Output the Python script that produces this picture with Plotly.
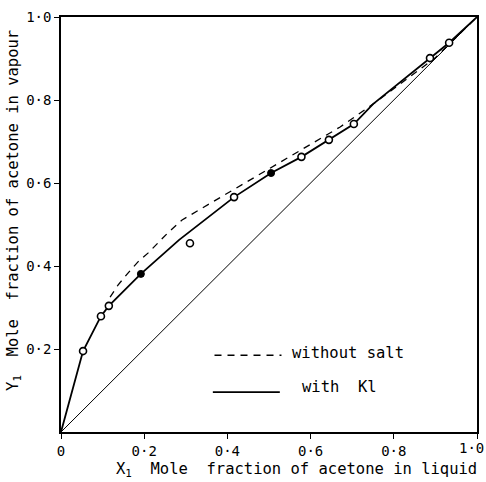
import plotly.graph_objects as go

# Solid curve: with KI
ki_x = [0.0, 0.053, 0.096, 0.115, 0.192, 0.284, 0.416, 0.505, 0.578, 0.644, 0.704, 0.75, 0.887, 0.933, 1.0]
ki_y = [0.0, 0.195, 0.279, 0.304, 0.381, 0.463, 0.566, 0.624, 0.663, 0.704, 0.742, 0.79, 0.901, 0.938, 1.0]

# Dashed curve: without salt
ns_x = [0.118, 0.137, 0.161, 0.185, 0.209, 0.233, 0.257, 0.291, 0.478, 0.671, 0.75, 0.9, 1.0]
ns_y = [0.325, 0.354, 0.383, 0.41, 0.431, 0.455, 0.48, 0.511, 0.622, 0.735, 0.79, 0.902, 1.0]

# Experimental points
open_x = [0.053, 0.096, 0.115, 0.31, 0.416, 0.578, 0.644, 0.704, 0.887, 0.933]
open_y = [0.195, 0.279, 0.304, 0.455, 0.566, 0.663, 0.704, 0.742, 0.901, 0.938]
filled_x = [0.192, 0.505]
filled_y = [0.381, 0.624]

# Diagonal
diag = [0.0, 1.0]

tick_vals = [0, 0.2, 0.4, 0.6, 0.8, 1.0]
x_tick_text = ["0", "0·2", "0·4", "0·6", "0·8", "1·0"]
y_tick_vals = [0.2, 0.4, 0.6, 0.8, 1.0]
y_tick_text = ["0·2", "0·4", "0·6", "0·8", "1·0"]

FONT = "DejaVu Sans Mono"

fig = go.Figure()
fig.add_trace(go.Scatter(x=diag, y=diag, mode="lines", line=dict(color="black", width=1), showlegend=False))
fig.add_trace(go.Scatter(x=ns_x, y=ns_y, mode="lines", line=dict(color="black", width=1.3, dash="7px,6px"), showlegend=False))
fig.add_trace(go.Scatter(x=ki_x, y=ki_y, mode="lines", line=dict(color="black", width=1.8), showlegend=False))
fig.add_trace(go.Scatter(x=open_x, y=open_y, mode="markers",
                         marker=dict(symbol="circle", size=7, color="white", line=dict(color="black", width=1.6)),
                         showlegend=False))
fig.add_trace(go.Scatter(x=filled_x, y=filled_y, mode="markers",
                         marker=dict(symbol="circle", size=7, color="black", line=dict(color="black", width=1)),
                         showlegend=False))

# Legend drawn as shapes + annotations
fig.add_shape(type="line", xref="x", yref="y", x0=0.369, x1=0.53, y0=0.185, y1=0.185,
              line=dict(color="black", width=1.3, dash="7px,6px"))
fig.add_shape(type="line", xref="x", yref="y", x0=0.365, x1=0.526, y0=0.096, y1=0.096,
              line=dict(color="black", width=1.6))
fig.add_annotation(x=0.55, y=0.19, xref="x", yref="y", text="without salt", showarrow=False,
                   xanchor="left", yanchor="middle", font=dict(family=FONT, size=15.5, color="black"))
fig.add_annotation(x=0.574, y=0.108, xref="x", yref="y", text="with  Kl", showarrow=False,
                   xanchor="left", yanchor="middle", font=dict(family=FONT, size=15.5, color="black"))

# Axis titles
fig.add_annotation(x=0.566, y=-0.092, xref="paper", yref="paper",
                   text="X<sub>1</sub>  Mole  fraction of acetone in liquid", showarrow=False,
                   xanchor="center", yanchor="middle", font=dict(family=FONT, size=15.5, color="black"))
fig.add_annotation(x=-0.113, y=0.535, xref="paper", yref="paper",
                   text="Y<sub>1</sub>  Mole  fraction of acetone in vapour", showarrow=False, textangle=-90,
                   xanchor="center", yanchor="middle", font=dict(family=FONT, size=15.5, color="black"))

# Last x tick label sits flush with the right edge of the figure
shown_x_text = x_tick_text[:-1] + [""]
fig.add_annotation(x=1.021, y=tick_vals[-1] * 0, xref="paper", yref="y", yshift=-16,
                   text=x_tick_text[-1], showarrow=False, xanchor="right", yanchor="middle",
                   font=dict(family=FONT, size=14, color="black"))

axis_common = dict(range=[0, 1], showgrid=False, zeroline=False, showline=True, linecolor="black",
                   linewidth=1.5, mirror=True, ticks="outside", ticklen=5, tickcolor="black",
                   tickfont=dict(family=FONT, size=14, color="black"), fixedrange=True,
                   automargin=False)
fig.update_xaxes(tickvals=tick_vals, ticktext=shown_x_text, **axis_common)
fig.update_yaxes(tickvals=y_tick_vals, ticktext=y_tick_text, **axis_common)

fig.update_layout(width=486, height=482, margin=dict(l=61, r=9, t=17, b=50, autoexpand=False),
                  plot_bgcolor="white", paper_bgcolor="white", showlegend=False)

fig.write_html("out.html")
